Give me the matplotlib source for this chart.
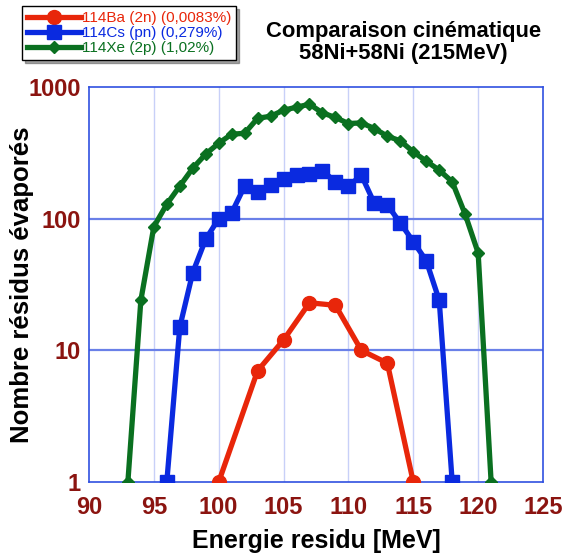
import numpy as np
import matplotlib
matplotlib.use('Agg')
import matplotlib.pyplot as plt
from matplotlib.ticker import FixedLocator, NullLocator

plt.rcParams['font.family'] = ['Liberation Sans', 'DejaVu Sans']

# --- DATA ---
e_ba = [100, 103, 105, 107, 109, 111, 113, 115]
n_ba = [1, 7, 12, 23, 22, 10, 8, 1]

e_cs = [96, 97, 98, 99, 100, 101, 102, 103, 104, 105, 106, 107, 108, 109, 110,
        111, 112, 113, 114, 115, 116, 117, 118]
n_cs = [1, 15, 39, 70, 100, 111, 177, 160, 180, 199, 214, 217, 231, 191, 177,
        214, 131, 127, 93, 67, 48, 24, 1]

e_xe = [93, 94, 95, 96, 97, 98, 99, 100, 101, 102, 103, 104, 105, 106, 107,
        108, 109, 110, 111, 112, 113, 114, 115, 116, 117, 118, 119, 120, 121]
n_xe = [1, 24, 87, 129, 177, 242, 310, 375, 439, 446, 580, 601, 668, 704, 742,
        637, 588, 529, 535, 485, 424, 391, 322, 274, 234, 191, 108, 55, 1]

labels = ['114Ba (2n) (0,0083%)', '114Cs (pn) (0,279%)', '114Xe (2p) (1,02%)']
x_ticks = [90, 95, 100, 105, 110, 115, 120, 125]
y_ticks = [1, 10, 100, 1000]

RED = '#e8260a'
BLUE = '#0a2ae0'
GREEN = '#0a7020'
TICK = '#8b1410'
GRIDBLUE = '#3050e0'

fig = plt.figure(figsize=(5.63, 5.55), dpi=100)
ax = fig.add_axes([0.158, 0.1315, 0.8065, 0.7115])

ax.plot(e_ba, n_ba, color=RED, lw=3.8, marker='o', ms=10, label=labels[0], zorder=5)
ax.plot(e_cs, n_cs, color=BLUE, lw=3.8, marker='s', ms=9.5, label=labels[1], zorder=4)
ax.plot(e_xe, n_xe, color=GREEN, lw=3.8, marker='D', ms=6.5, label=labels[2], zorder=3)

ax.set_yscale('log')
ax.set_xlim(90, 125)
ax.set_ylim(1, 1000)
ax.xaxis.set_major_locator(FixedLocator(x_ticks))
ax.yaxis.set_major_locator(FixedLocator(y_ticks))
ax.yaxis.set_minor_locator(NullLocator())
ax.set_yticklabels([str(v) for v in y_ticks])

# grid
for xv in x_ticks[1:-1]:
    ax.axvline(xv, color='#c8d0f8', lw=1.0, zorder=0)
for yv in y_ticks[1:-1]:
    ax.axhline(yv, color='#6a80e8', lw=1.6, zorder=0)

for sp in ax.spines.values():
    sp.set_color(GRIDBLUE)
    sp.set_linewidth(1.2)

ax.tick_params(axis='both', which='major', direction='in', length=0,
               labelsize=17, labelcolor=TICK)
ax.tick_params(axis='x', pad=10)
ax.tick_params(axis='y', pad=6)
for lbl in ax.get_xticklabels() + ax.get_yticklabels():
    lbl.set_fontweight('bold')

ax.set_xlabel('Energie residu [MeV]', fontsize=18, fontweight='bold', labelpad=7)
ax.set_ylabel('Nombre résidus évaporés', fontsize=18.5, fontweight='bold')
ax.yaxis.set_label_coords(-0.148, 0.5)
ax.yaxis.label.set_va('center')

fig.text(0.716, 0.923, 'Comparaison cinématique\n58Ni+58Ni (215MeV)',
         ha='center', va='center', fontsize=15.8, fontweight='bold', linespacing=1.08)

leg = fig.legend(loc='upper left', bbox_to_anchor=(0.039, 0.989), fontsize=11,
                 frameon=True, fancybox=False, shadow=True, handlelength=3.5,
                 handletextpad=0.05, borderpad=0.35, labelspacing=0.05,
                 borderaxespad=0)
leg.get_frame().set_edgecolor('black')
leg.get_frame().set_linewidth(1.0)
for txt, c in zip(leg.get_texts(), [RED, BLUE, GREEN]):
    txt.set_color(c)

fig.savefig('out.png', dpi=100)
